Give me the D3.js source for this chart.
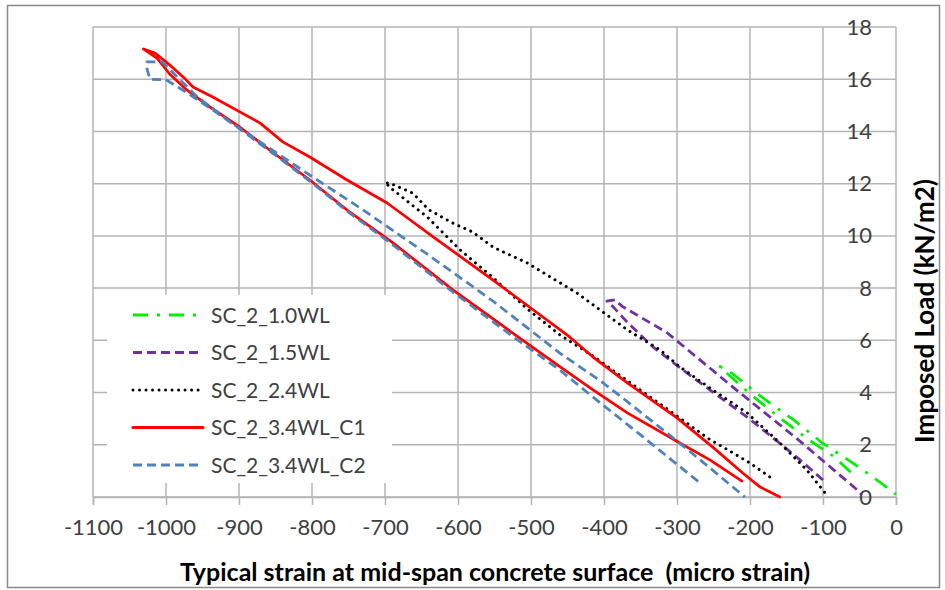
<!DOCTYPE html>
<html>
<head>
<meta charset="utf-8">
<script src="https://cdn.jsdelivr.net/npm/d3@7"></script>
<style>
  body { margin: 0; background: #fff; }
  svg { display: block; font-family: Lato, "Open Sans", sans-serif; }
</style>
</head>
<body>
<script>
// series: [strain (micro strain), imposed load (kN/m2)]
const sc2_10WL = [[-62, 0.95], [-85, 1.55], [-120, 2.2], [-160, 3.05], [-200, 3.95], [-230, 4.7], [-241, 5.0],
  [-225, 4.75], [-185, 3.85], [-140, 2.95], [-100, 2.05], [-59, 1.3], [-26, 0.65], [0, 0.1]];
const sc2_15WL = [[-100, 0.65], [-136, 1.53], [-170, 2.3], [-204, 3.06], [-250, 4.0], [-296, 4.95], [-333, 5.75],
  [-370, 6.75], [-388, 7.3], [-396, 7.5], [-385, 7.55], [-375, 7.3], [-314, 6.3], [-223, 4.2], [-132, 2.15],
  [-53, 0.27], [-47, 0.08]];
const sc2_24WL = [[-173, 0.77], [-200, 1.3], [-227, 1.75], [-255, 2.2], [-300, 3.1], [-368, 4.45], [-415, 5.4],
  [-460, 6.2], [-505, 7.2], [-552, 8.4], [-597, 9.46], [-642, 10.72], [-689, 11.76], [-700, 12.05],
  [-690, 11.98], [-662, 11.64], [-640, 11.0], [-607, 10.49], [-580, 10.15], [-552, 9.57], [-505, 8.96],
  [-437, 7.81], [-368, 6.4], [-323, 5.63], [-296, 4.98], [-251, 4.1], [-204, 3.22], [-159, 2.07],
  [-122, 1.03], [-95, 0.08]];
const sc2_34WL_C1 = [[-211, 0.61], [-255, 1.42], [-296, 2.07], [-368, 3.22], [-415, 4.1], [-460, 4.98],
  [-525, 6.28], [-607, 7.93], [-689, 9.73], [-752, 10.99], [-803, 12.14], [-858, 13.29], [-899, 14.17],
  [-940, 14.94], [-972, 15.6], [-995, 16.2], [-1012, 16.8], [-1031, 17.16], [-1015, 17.0], [-995, 16.55],
  [-975, 16.05], [-963, 15.7], [-936, 15.32], [-871, 14.32], [-840, 13.6], [-803, 13.02], [-752, 12.14],
  [-697, 11.26], [-634, 9.96], [-552, 8.31], [-447, 6.13], [-415, 5.36], [-368, 4.37], [-300, 3.03],
  [-251, 1.91], [-210, 0.92], [-186, 0.38], [-159, 0]];
const sc2_34WL_C2 = [[-271, 0.6], [-300, 1.25], [-350, 2.38], [-405, 3.6], [-460, 4.85], [-525, 6.15],
  [-607, 7.85], [-689, 9.65], [-752, 10.95], [-803, 12.1], [-858, 13.25], [-899, 14.1], [-940, 14.9],
  [-975, 15.55], [-1000, 15.98], [-1022, 16.0], [-1026, 16.4], [-1026, 16.66], [-1005, 16.66], [-985, 16.1],
  [-960, 15.4], [-916, 14.44], [-871, 13.6], [-807, 12.4], [-734, 11.07], [-642, 9.3], [-552, 7.5],
  [-460, 5.5], [-405, 4.45], [-368, 3.65], [-300, 2.15], [-250, 1.0], [-207, 0]];

const seriesNames = ['SC_2_1.0WL', 'SC_2_1.5WL', 'SC_2_2.4WL', 'SC_2_3.4WL_C1', 'SC_2_3.4WL_C2'];
const seriesData = [sc2_10WL, sc2_15WL, sc2_24WL, sc2_34WL_C1, sc2_34WL_C2];
const xTicks = [-1100, -1000, -900, -800, -700, -600, -500, -400, -300, -200, -100, 0];
const yTicks = [0, 2, 4, 6, 8, 10, 12, 14, 16, 18];

const colors = ['#00f000', '#7030a0', '#000000', '#ff0000', '#4f81bd'];
const dashes = ['15,9,3,9', '9,5', '0.01,6.5', null, '9,5'];
const caps = ['butt', 'butt', 'round', 'round', 'butt'];

const width = 945;
const height = 590;
const plot = {left: 93, right: 896, top: 27, bottom: 497};

const svg = d3.select('body')
.append('svg')
.attr('width', width)
.attr('height', height);

// outer frame
svg.append('rect')
.attr('x', 7.5).attr('y', 5.5)
.attr('width', 932).attr('height', 582)
.attr('fill', '#fff')
.attr('stroke', '#8a8a8a')
.attr('stroke-width', 1.5);

const xScale = d3.scaleLinear().domain([-1100, 0]).range([plot.left, plot.right]);
const yScale = d3.scaleLinear().domain([0, 18]).range([plot.bottom, plot.top]);

// gridlines
const grid = svg.append('g').attr('stroke', '#b4b4b4').attr('stroke-width', 1.5);
grid.selectAll('.vg').data(xTicks).enter().append('line')
.attr('x1', d => xScale(d)).attr('x2', d => xScale(d))
.attr('y1', plot.top).attr('y2', plot.bottom);
grid.selectAll('.hg').data(yTicks).enter().append('line')
.attr('x1', plot.left).attr('x2', plot.right)
.attr('y1', d => yScale(d)).attr('y2', d => yScale(d));

// x axis
const xAxis = d3.axisBottom(xScale)
.tickValues(xTicks)
.tickFormat(d => String(d))
.tickSize(8)
.tickPadding(14);

const gx = svg.append('g')
.attr('transform', `translate(0, ${plot.bottom})`)
.call(xAxis);
gx.select('.domain').attr('stroke', '#b4b4b4').attr('stroke-width', 1.5);
gx.selectAll('.tick line').attr('stroke', '#b4b4b4').attr('stroke-width', 1.5);
gx.selectAll('text').attr('font-size', 22).attr('fill', '#404040').attr('font-family', 'Lato');

// y axis labels sit left of the zero line, over the grid
const yAxis = d3.axisLeft(yScale)
.tickValues(yTicks)
.tickSize(0)
.tickPadding(24);

const gy = svg.append('g')
.attr('transform', `translate(${plot.right}, 0)`)
.call(yAxis);
gy.select('.domain').remove();
gy.selectAll('text').attr('font-size', 22).attr('fill', '#404040').attr('font-family', 'Lato');

// legend box
const legend = svg.append('g');
legend.append('rect')
.attr('x', 107).attr('y', 295)
.attr('width', 285).attr('height', 188)
.attr('fill', '#fff');

// series lines
const line = d3.line()
.x(d => xScale(d[0]))
.y(d => yScale(d[1]));

svg.append('g').selectAll('path')
.data(seriesData)
.enter()
.append('path')
.attr('d', d => line(d))
.attr('fill', 'none')
.attr('stroke', (d, i) => colors[i])
.attr('stroke-width', (d, i) => i === 2 ? 3 : 2.75)
.attr('stroke-dasharray', (d, i) => dashes[i])
.attr('stroke-linecap', (d, i) => caps[i])
.attr('stroke-linejoin', 'round');

const items = legend.selectAll('.item')
.data(seriesNames)
.enter()
.append('g')
.attr('transform', (d, i) => `translate(0, ${315 + i * 37.5})`);

items.append('line')
.attr('x1', 133).attr('x2', 203)
.attr('y1', 0).attr('y2', 0)
.attr('stroke', (d, i) => colors[i])
.attr('stroke-width', 3)
.attr('stroke-dasharray', (d, i) => dashes[i])
.attr('stroke-linecap', (d, i) => caps[i]);

items.append('text')
.attr('x', 211)
.attr('y', 0)
.attr('dy', '0.36em')
.attr('font-size', 21)
.attr('fill', '#404040')
.text(d => d);

// axis titles
svg.append('text')
.attr('x', 495)
.attr('y', 572)
.attr('dy', '0.36em')
.attr('text-anchor', 'middle')
.attr('font-size', 25)
.attr('font-weight', 'bold')
.style('white-space', 'pre')
.text('Typical strain at mid-span concrete surface  (micro strain)');

svg.append('text')
.attr('transform', 'translate(925, 311) rotate(-90)')
.attr('dy', '0.36em')
.attr('text-anchor', 'middle')
.attr('font-size', 26)
.attr('font-weight', 'bold')
.text('Imposed Load (kN/m2)');
</script>
</body>
</html>
